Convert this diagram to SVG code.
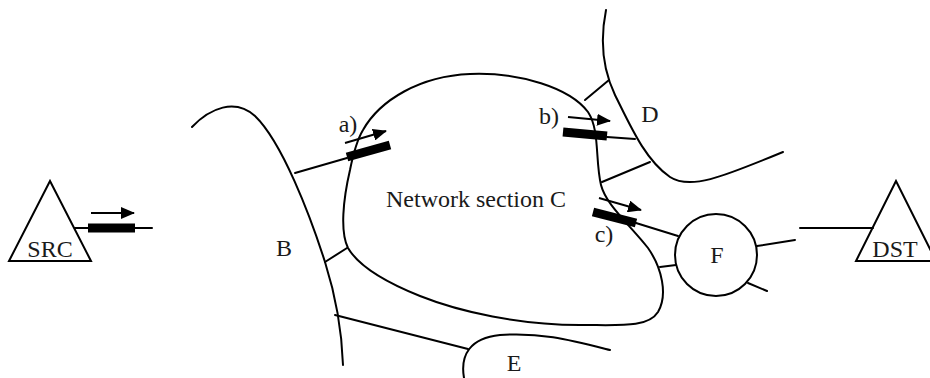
<svg xmlns="http://www.w3.org/2000/svg" width="930" height="378" viewBox="0 0 930 378">
<style>
.ln{fill:none;stroke:#000;stroke-width:2;stroke-linecap:round}
.bar{stroke:#000;stroke-width:9;stroke-linecap:butt}
.arr{fill:none;stroke:#000;stroke-width:2;marker-end:url(#ah)}
.sh{fill:#fff;stroke:#000;stroke-width:2}
.t{font-family:"Liberation Serif","Times New Roman",serif;font-size:24px;fill:#1a1a1a}
</style>
<defs>
<marker id="ah" markerUnits="userSpaceOnUse" markerWidth="14" markerHeight="12" refX="13" refY="6" orient="auto">
<path d="M0,0 L14,6 L0,12 z" fill="#000"/>
</marker>
</defs>
<rect width="930" height="378" fill="#fff"/>
<g id="B">
<path class="ln" d="M192,127 C210,108 235,98 255,116 C282,142 310,215 325,262 C337,300 342,335 343,365"/>
<text class="t" x="284" y="256" text-anchor="middle">B</text>
</g>
<g id="C">
<path class="ln" d="M363,130 C380,100 420,76 470,74 C520,72 570,88 588,112 C600,130 595,160 601,185 C606,205 630,225 648,248 C662,268 668,295 658,312 C648,328 620,325 580,325 C520,325 460,312 420,296 C385,282 358,265 348,248 C340,232 343,200 350,170 C353,155 357,140 363,130 Z"/>
<text class="t" x="476" y="207" text-anchor="middle">Network section C</text>
</g>
<g id="D">
<path class="ln" d="M606,10 C600,40 603,70 615,95 C630,125 645,160 670,177 C690,190 720,178 783,152"/>
<text class="t" x="650" y="122" text-anchor="middle">D</text>
</g>
<g id="E">
<path class="ln" d="M464,378 C460,355 470,338 500,335 C540,332 570,340 610,350"/>
<text class="t" x="514" y="371" text-anchor="middle">E</text>
</g>
<g id="F">
<circle class="sh" cx="716" cy="255" r="41"/>
<text class="t" x="717" y="263" text-anchor="middle">F</text>
</g>
<g id="SRC">
<polygon class="sh" points="50,181 9,261 91,261"/>
<text class="t" x="50" y="257" text-anchor="middle">SRC</text>
</g>
<g id="DST">
<polygon class="sh" points="896,181 856,261 936,261"/>
<text class="t" x="895" y="257" text-anchor="middle">DST</text>
</g>
<g id="connectors">
<line class="ln" x1="75" y1="228" x2="152" y2="228"/>
<line class="ln" x1="295" y1="173" x2="347" y2="158"/>
<line class="ln" x1="325" y1="262" x2="347" y2="248"/>
<line class="ln" x1="335" y1="315" x2="468" y2="349"/>
<line class="ln" x1="585" y1="100" x2="609" y2="80"/>
<line class="ln" x1="607" y1="137" x2="635" y2="139"/>
<line class="ln" x1="602" y1="182" x2="650" y2="162"/>
<line class="ln" x1="636" y1="223" x2="678" y2="236"/>
<line class="ln" x1="660" y1="267" x2="676" y2="265"/>
<line class="ln" x1="757" y1="246" x2="795" y2="240"/>
<line class="ln" x1="748" y1="283" x2="767" y2="291"/>
<line class="ln" x1="800" y1="228" x2="873" y2="228"/>
<line class="bar" x1="88" y1="228" x2="135" y2="228"/>
<line class="bar" x1="347" y1="157" x2="390" y2="145"/>
<line class="bar" x1="563" y1="132" x2="607" y2="136"/>
<line class="bar" x1="593" y1="212" x2="636" y2="223"/>
<line class="arr" x1="91" y1="213" x2="134" y2="213"/>
<line class="arr" x1="345" y1="143" x2="386" y2="131"/>
<line class="arr" x1="568" y1="117" x2="610" y2="121"/>
<line class="arr" x1="599" y1="198" x2="641" y2="210"/>
<text class="t" x="348" y="132" text-anchor="middle">a)</text>
<text class="t" x="549" y="124" text-anchor="middle">b)</text>
<text class="t" x="604" y="242" text-anchor="middle">c)</text>
</g>
</svg>
